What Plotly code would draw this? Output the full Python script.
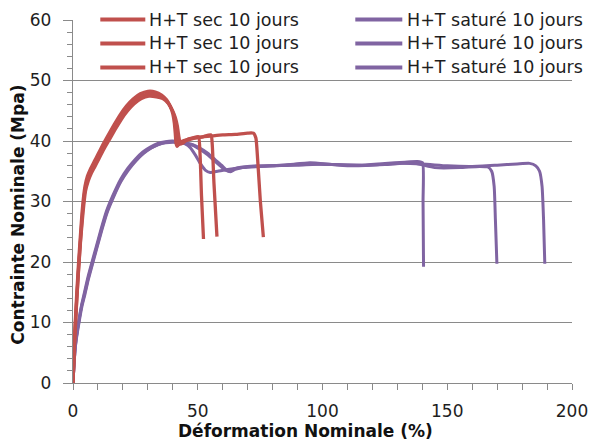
import plotly.graph_objects as go

# ---- tensile curves: nominal strain (%) vs nominal stress (MPa) ----
# H+T dry, 10 days (three specimens)
sec1_x = [0, 0.3, 0.6, 0.9, 1.4, 2.1, 2.9, 3.8, 4.8, 5.8, 7.0, 8.5, 10.0, 12.0, 14.0, 16.5,
          19.0, 21.5, 24.0, 27.0, 30.0, 33.0, 35.5, 37.5, 39.0, 40.0, 40.6, 41.0, 41.3, 41.8,
          43.0, 45.5, 48.0, 50.3, 50.9, 51.5, 52.3]
sec1_y = [0, 3.5, 7.0, 10.0, 14.0, 19.0, 24.0, 29.0, 32.5, 34.2, 35.4, 36.6, 37.8, 39.4, 40.9, 42.7,
          44.4, 45.8, 46.9, 47.8, 48.2, 48.1, 47.6, 46.8, 45.7, 44.5, 43.0, 41.2, 39.6, 39.1,
          39.8, 40.2, 40.5, 40.7, 38.0, 31.0, 23.8]

sec2_x = [0, 0.3, 0.6, 1.0, 1.5, 2.2, 3.0, 3.9, 4.9, 6.0, 7.2, 8.7, 10.2, 12.2, 14.2, 16.7,
          19.2, 21.7, 24.2, 27.2, 30.2, 33.2, 35.7, 37.8, 39.4, 40.5, 41.2, 41.7, 42.0, 42.4,
          43.5, 45.5, 48.0, 52.0, 55.3, 55.8, 56.5, 57.7]
sec2_y = [0, 3.4, 6.8, 10.0, 13.8, 18.7, 23.6, 28.5, 32.1, 33.8, 35.0, 36.2, 37.4, 39.0, 40.5, 42.3,
          44.0, 45.4, 46.5, 47.4, 47.8, 47.7, 47.3, 46.5, 45.4, 44.2, 42.7, 41.0, 39.7, 39.4,
          39.8, 40.1, 40.4, 40.7, 41.0, 39.5, 33.0, 24.2]

sec3_x = [0, 0.3, 0.6, 1.0, 1.5, 2.2, 3.0, 4.0, 5.0, 6.1, 7.3, 8.8, 10.3, 12.3, 14.4, 16.9,
          19.4, 21.9, 24.4, 27.4, 30.4, 33.4, 36.0, 38.2, 39.8, 41.0, 41.8, 42.4, 42.8, 43.2,
          44.2, 46.0, 50.0, 55.0, 60.0, 65.0, 70.0, 72.3, 73.3, 74.0, 75.1, 76.3]
sec3_y = [0, 3.3, 6.6, 9.8, 13.6, 18.4, 23.3, 28.1, 31.7, 33.4, 34.6, 35.8, 37.0, 38.6, 40.1, 41.9,
          43.6, 45.0, 46.1, 47.0, 47.4, 47.3, 47.0, 46.2, 45.1, 43.9, 42.5, 40.8, 39.8, 39.5,
          39.7, 40.3, 40.6, 40.8, 41.0, 41.1, 41.3, 41.3, 40.5, 37.0, 30.0, 24.1]

# H+T saturated, 10 days (three specimens)
sat1_x = [0, 0.3, 0.7, 1.2, 1.8, 2.6, 3.5, 4.6, 6.0, 7.5, 9.3, 11.3, 13.5, 16.0, 19.0, 22.0,
          25.0, 28.0, 31.0, 34.0, 37.0, 40.0, 43.0, 45.0, 47.0, 49.0, 51.0, 53.0, 55.0, 58.0,
          62.0, 68.0, 75.0, 85.0, 95.0, 105.0, 115.0, 125.0, 133.0, 138.0, 140.1, 140.3, 140.5]
sat1_y = [0, 2.5, 5.0, 7.2, 9.0, 11.0, 13.0, 15.0, 17.5, 19.8, 22.5, 25.5, 28.5, 31.0, 33.6, 35.5,
          37.0, 38.2, 39.0, 39.6, 39.9, 40.0, 39.8, 39.5, 38.9, 37.7, 36.3, 35.2, 34.8, 35.0,
          35.3, 35.6, 35.8, 36.0, 36.4, 36.1, 36.0, 36.3, 36.5, 36.6, 36.4, 30.0, 19.2]

sat2_x = [0, 0.3, 0.7, 1.2, 1.8, 2.6, 3.5, 4.7, 6.1, 7.6, 9.4, 11.4, 13.6, 16.1, 19.1, 22.1,
          25.1, 28.1, 31.1, 34.1, 37.1, 40.1, 43.0, 45.0, 48.0, 51.0, 54.0, 56.5, 59.0, 61.0,
          62.5, 64.5, 68.0, 78.0, 90.0, 100.0, 112.0, 125.0, 136.0, 145.0, 155.0, 163.0, 166.3,
          167.8, 168.8, 169.3, 169.9]
sat2_y = [0, 2.4, 4.9, 7.0, 8.8, 10.8, 12.8, 14.8, 17.3, 19.6, 22.3, 25.3, 28.3, 30.8, 33.4, 35.3,
          36.8, 38.0, 38.8, 39.4, 39.7, 39.8, 39.7, 39.6, 39.3, 38.6, 37.7, 36.8, 35.9, 35.2,
          35.0, 35.4, 35.7, 35.9, 36.0, 36.2, 35.9, 36.1, 36.4, 35.6, 35.6, 35.8, 35.7,
          35.0, 32.5, 27.0, 19.7]

sat3_x = [0, 0.3, 0.7, 1.2, 1.9, 2.7, 3.6, 4.8, 6.2, 7.7, 9.5, 11.5, 13.7, 16.2, 19.2, 22.2,
          25.2, 28.2, 31.2, 34.2, 37.2, 40.2, 43.0, 45.0, 48.0, 51.0, 54.0, 57.0, 59.5, 61.5,
          63.0, 65.0, 70.0, 80.0, 92.0, 104.0, 118.0, 130.0, 140.0, 150.0, 160.0, 170.0, 178.0,
          183.0, 185.5, 187.0, 188.0, 188.6, 189.1]
sat3_y = [0, 2.3, 4.8, 6.9, 8.7, 10.7, 12.7, 14.7, 17.2, 19.5, 22.2, 25.2, 28.2, 30.7, 33.3, 35.2,
          36.7, 37.9, 38.8, 39.4, 39.8, 39.9, 39.8, 39.7, 39.4, 38.8, 38.0, 36.9, 36.0, 35.2,
          34.9, 35.3, 35.8, 35.9, 36.2, 36.1, 36.0, 36.3, 36.2, 35.9, 35.8, 36.0, 36.2,
          36.3, 35.9, 35.0, 32.5, 27.0, 19.7]

label_sec = "H+T sec 10 jours"
label_sat = "H+T saturé 10 jours"
RED = "#C0504D"
PURPLE = "#8064A2"
GRID = "#8A8A8A"
TEXT = "#1E1E1E"
FONT = "DejaVu Sans"

# plot-area geometry (pixels) used to place the key and titles in paper units
L, R, T, B = 72.7, 571.7, 19.5, 382.7
W, H = R - L, B - T


def px_x(px):
    return (px - L) / W


def px_y(py):
    return (B - py) / H


fig = go.Figure()

purple_series = [(sat1_x, sat1_y), (sat2_x, sat2_y), (sat3_x, sat3_y)]
red_series = [(sec1_x, sec1_y), (sec2_x, sec2_y), (sec3_x, sec3_y)]

for xs, ys in purple_series:
    fig.add_trace(go.Scatter(x=xs, y=ys, mode="lines", name=label_sat, showlegend=False,
                             line=dict(color=PURPLE, width=3, shape="spline", smoothing=0.5)))
for xs, ys in red_series:
    fig.add_trace(go.Scatter(x=xs, y=ys, mode="lines", name=label_sec, showlegend=False,
                             line=dict(color=RED, width=3.3, shape="spline", smoothing=0.5)))

# key: two columns (dry / saturated), one row per specimen
shapes = [
    # white panel behind the key, hiding the upper gridlines
    dict(type="rect", xref="paper", yref="paper", layer="between",
         x0=px_x(88), x1=px_x(591), y0=px_y(86), y1=px_y(0),
         fillcolor="white", line=dict(width=0)),
]
annotations = []
row_y = [19, 43, 67]
for ry in row_y:
    for (lx0, lx1, tx, col, lab) in [(100, 145, 147, RED, label_sec),
                                     (355, 402, 405, PURPLE, label_sat)]:
        shapes.append(dict(type="line", xref="paper", yref="paper", layer="above",
                           x0=px_x(lx0), x1=px_x(lx1), y0=px_y(ry), y1=px_y(ry),
                           line=dict(color=col, width=4)))
        annotations.append(dict(text=lab, xref="paper", yref="paper",
                                x=px_x(tx), y=px_y(ry), xanchor="left", yanchor="middle",
                                showarrow=False, font=dict(family=FONT, size=17.5, color=TEXT)))

annotations += [
    dict(text="<b>Déformation Nominale (%)</b>", xref="paper", yref="paper",
         x=px_x(305.5), y=px_y(431), xanchor="center", yanchor="middle",
         showarrow=False, font=dict(family=FONT, size=17, color="#111111")),
    dict(text="<b>Contrainte Nominale (Mpa)</b>", xref="paper", yref="paper",
         x=px_x(18), y=px_y(214), xanchor="center", yanchor="middle",
         textangle=-90, showarrow=False, font=dict(family=FONT, size=17, color="#111111")),
]

fig.update_layout(
    width=591, height=443,
    margin=dict(l=L, r=591 - R, t=T, b=443 - B, autoexpand=False),
    paper_bgcolor="white", plot_bgcolor="white",
    font=dict(family=FONT, size=17, color=TEXT),
    showlegend=False,
    xaxis=dict(range=[0, 200], dtick=50, showgrid=False, zeroline=False,
               showline=True, linecolor=GRID, linewidth=1.3,
               ticks="outside", ticklen=6, tickcolor=GRID, tickwidth=1.3,
               ticklabelstandoff=6,
               minor=dict(dtick=10, ticks="outside", ticklen=6, tickcolor=GRID, tickwidth=1.3,
                          showgrid=False),
               tickfont=dict(family=FONT, size=17, color=TEXT)),
    yaxis=dict(range=[0, 60], dtick=10, showgrid=True, gridcolor=GRID, gridwidth=1.3,
               zeroline=False, showline=True, linecolor=GRID, linewidth=1.3,
               ticks="outside", ticklen=9, tickcolor=GRID, tickwidth=1.3,
               ticklabelstandoff=8,
               minor=dict(dtick=2, ticks="outside", ticklen=5, tickcolor=GRID, tickwidth=1.3,
                          showgrid=False),
               tickfont=dict(family=FONT, size=17, color=TEXT)),
    shapes=shapes,
    annotations=annotations,
)

fig.write_html("out.html")
